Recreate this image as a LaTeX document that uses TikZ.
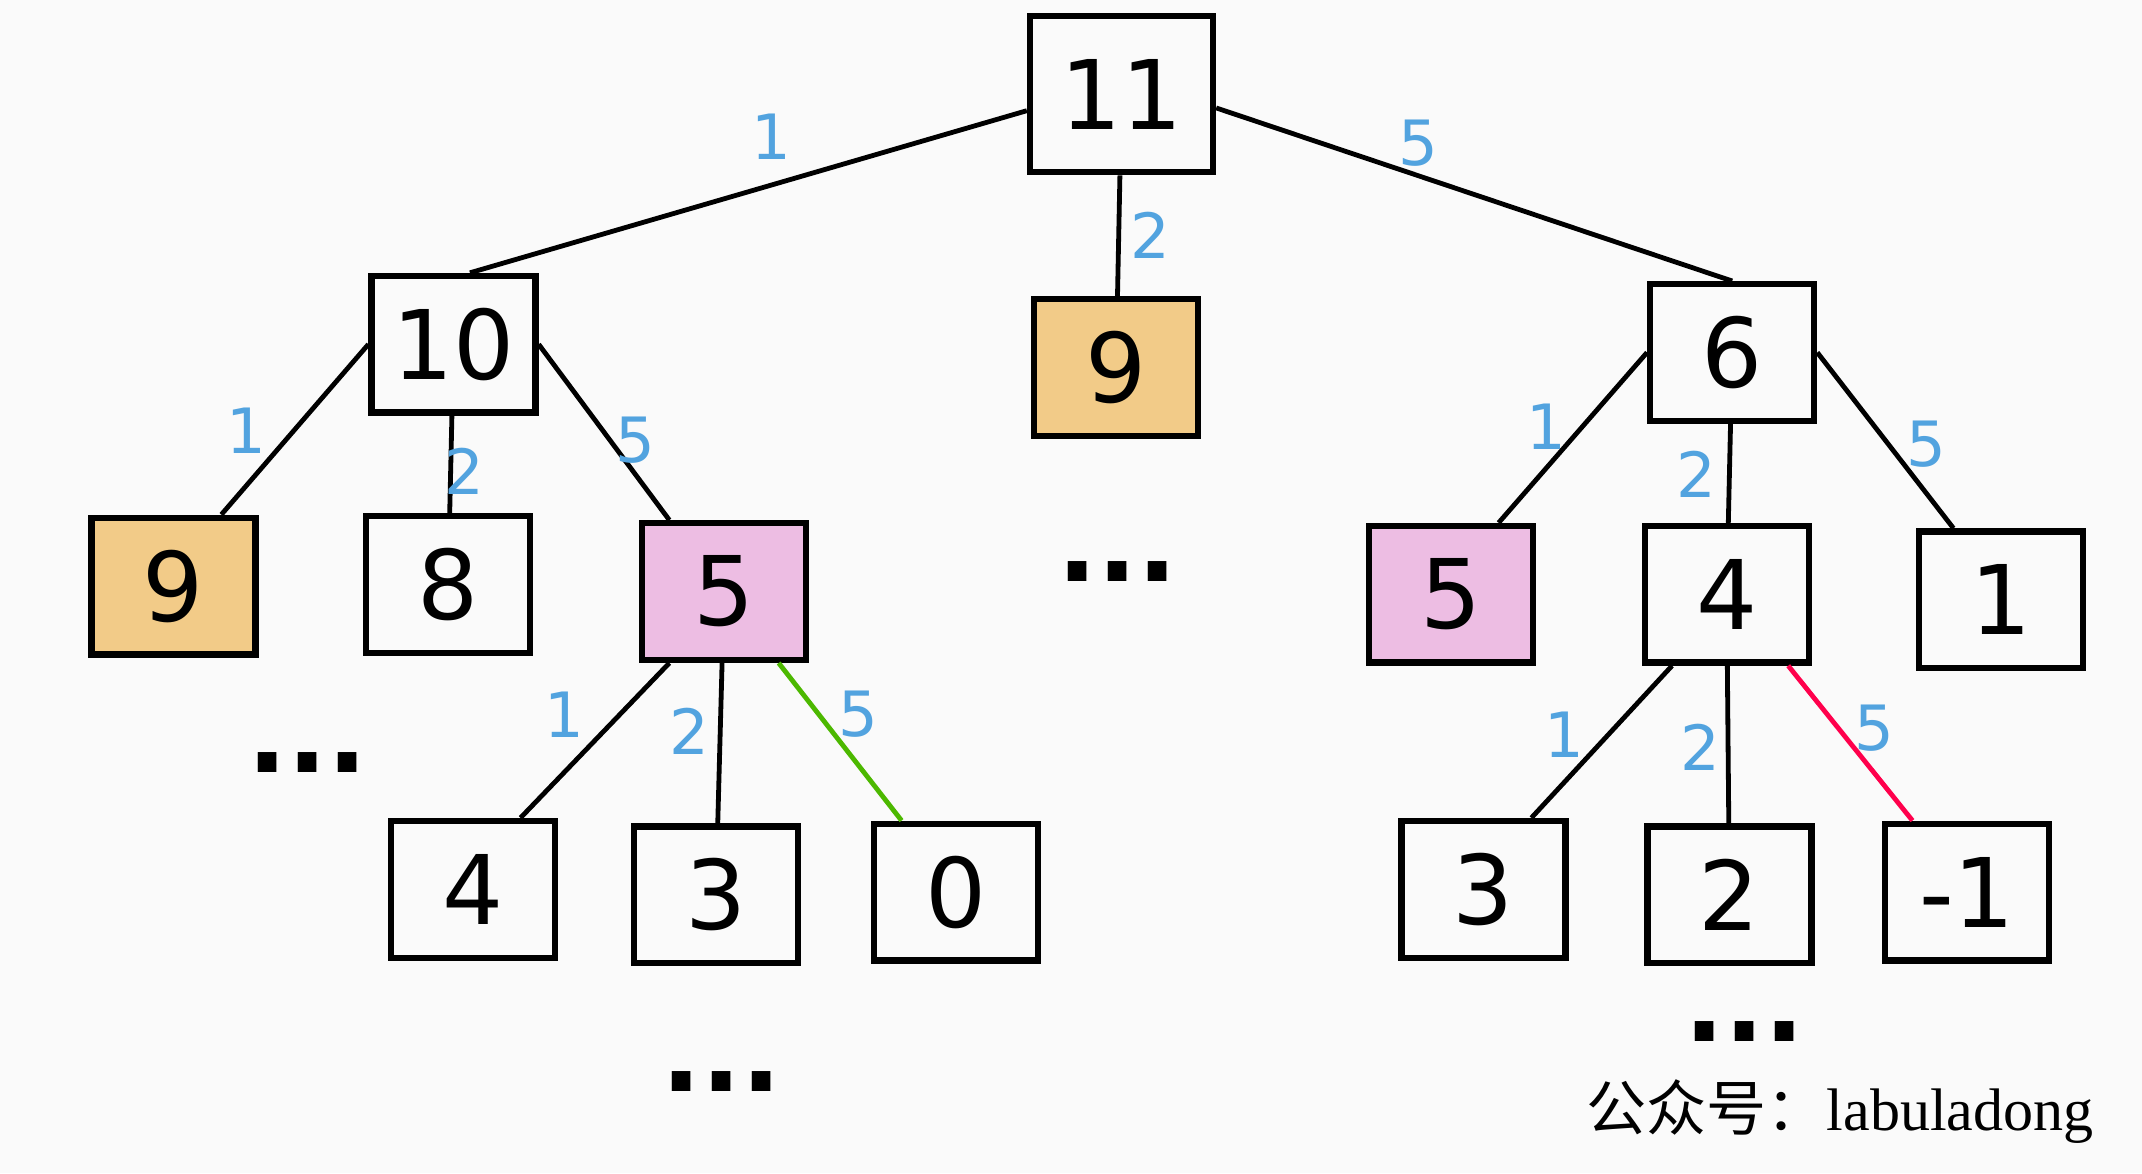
\documentclass[tikz,border=0pt]{standalone}
\usepackage{fontspec}
\setmainfont{DejaVu Sans}
\newfontfamily\cjk{Noto Sans CJK SC}
\newfontfamily\wm{Liberation Serif}
\definecolor{tan}{HTML}{F2CB88}
\definecolor{pk}{HTML}{EDBDE3}
\begin{document}
\begin{tikzpicture}[x=0.01cm,y=-0.01cm,
  box/.style={draw,line width=1.3pt,minimum width=1.2cm,minimum height=1cm,inner sep=0,font=\fontsize{20}{22}\selectfont},
  org/.style={box,fill=tan},
  pnk/.style={box,fill=pk},
  lab/.style={text=cyan!70!blue!70,font=\fontsize{13}{14}\selectfont},
  ed/.style={line width=1pt},
  dots/.style={font=\fontsize{22}{22}\selectfont\bfseries}]
\fill[black!2] (0,0) rectangle (1568,859);
\useasboundingbox (0,0) rectangle (1568,859);
\node[box,minimum width=1.34cm,minimum height=1.14cm] (a) at (821,69) {11};
\node[box] (b) at (332,252) {10};
\node[org] (c) at (817,269) {9};
\node[box] (d) at (1268,258) {6};
\node[org] (e) at (127,429) {9};
\node[box] (f) at (328,428) {8};
\node[pnk] (g) at (530,433) {5};
\node[pnk] (h) at (1062,435) {5};
\node[box] (i) at (1264,435) {4};
\node[box] (j) at (1465,439) {1};
\node[box] (k) at (346,651) {4};
\node[box] (l) at (524,655) {3};
\node[box] (m) at (700,653) {0};
\node[box] (n) at (1086,651) {3};
\node[box] (o) at (1266,655) {2};
\node[box] (p) at (1440,653) {-1};
\draw[ed] ([yshift=-0.12cm]a.west) -- ([xshift=0.12cm]b.north);
\draw[ed] (a) -- (c);
\draw[ed] ([yshift=-0.1cm]a.east) -- (d.north);
\draw[ed] (b.west) -- ([xshift=0.35cm]e.north);
\draw[ed] (b) -- (f);
\draw[ed] (b.east) -- ([xshift=-0.4cm]g.north);
\draw[ed] (d.west) -- ([xshift=0.35cm]h.north);
\draw[ed] (d) -- (i);
\draw[ed] (d.east) -- ([xshift=-0.35cm]j.north);
\draw[ed] ([xshift=-0.4cm]g.south) -- ([xshift=0.35cm]k.north);
\draw[ed] (g) -- (l);
\draw[ed,green!60!black!70!yellow] ([xshift=0.4cm]g.south) -- ([xshift=-0.4cm]m.north);
\draw[ed] ([xshift=-0.4cm]i.south) -- ([xshift=0.35cm]n.north);
\draw[ed] (i) -- (o);
\draw[ed,red!70!magenta] ([xshift=0.45cm]i.south) -- ([xshift=-0.4cm]p.north);
\node[lab] (l1) at (565,100) {1};
\node[lab] (l2) at (842,172) {2};
\node[lab] (l3) at (1038,105) {5};
\node[lab] (l4) at (180,315) {1};
\node[lab] (l5) at (340,345) {2};
\node[lab] (l6) at (465,322) {5};
\node[lab] (l7) at (1132,312) {1};
\node[lab] (l8) at (1242,347) {2};
\node[lab] (l9) at (1410,325) {5};
\node[lab] (l10) at (413,523) {1};
\node[lab] (l11) at (505,535) {2};
\node[lab] (l12) at (628,523) {5};
\node[lab] (l13) at (1145,538) {1};
\node[lab] (l14) at (1245,547) {2};
\node[lab] (l15) at (1372,533) {5};
\node[dots] (d1) at (818,418) {...};
\node[dots] (d2) at (225,558) {...};
\node[dots] (d3) at (528,792) {...};
\node[dots] (d4) at (1277,755) {...};
\node[anchor=east,font=\fontsize{12.5}{14}\selectfont] (wm) at (1545,814) {{\cjk 公众号：}{\wm labuladong}};
\end{tikzpicture}
\end{document}
